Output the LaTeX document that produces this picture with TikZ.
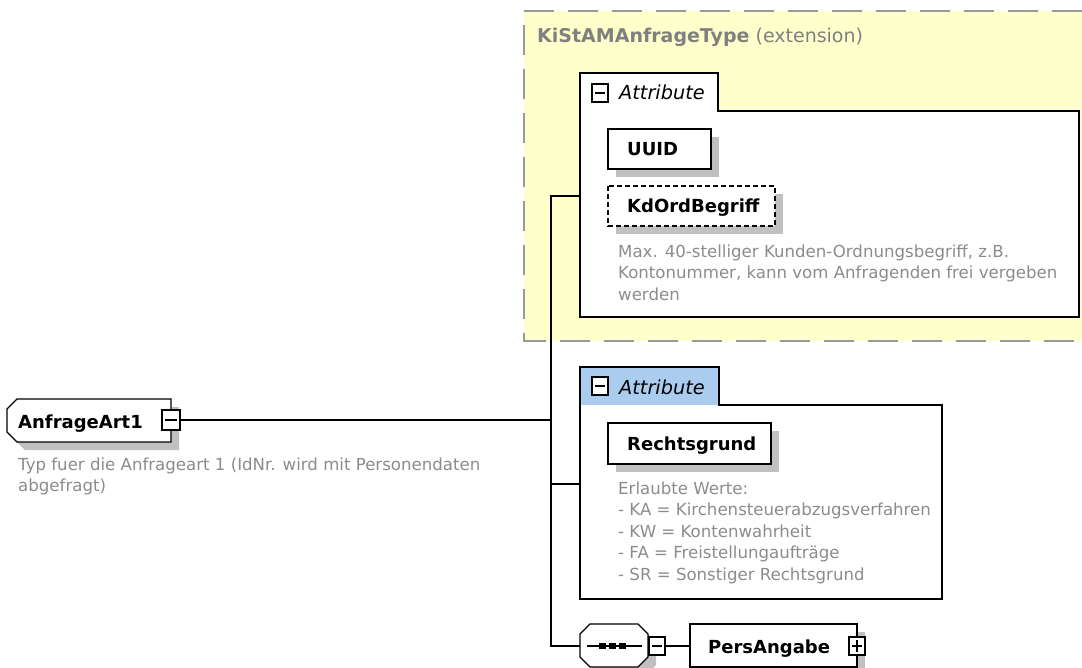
\documentclass[tikz,border=0pt]{standalone}
\usepackage{fontspec}
\setmainfont{DejaVu Sans}[BoldFont={DejaVu Sans Bold},ItalicFont={DejaVu Sans Oblique}]
\definecolor{cYlw}{HTML}{FFFFCC}
\definecolor{cTab}{HTML}{A9CCEF}
\definecolor{cShd}{HTML}{C0C0C0}
\definecolor{cDesc}{HTML}{8C8C8C}
\definecolor{cTitle}{HTML}{808080}
\definecolor{cDash}{HTML}{999999}
\begin{document}
\begin{tikzpicture}[x=1pt,y=-1pt,
  bord/.style={draw=black,line width=1.4pt},
  shad/.style={fill=cShd,draw=none},
  conn/.style={draw=black,line width=1.4pt},
  ename/.style={anchor=base west,inner sep=0pt,font=\fontsize{18}{22}\selectfont\bfseries},
  attrlbl/.style={anchor=base west,inner sep=0pt,font=\fontsize{19.3}{22}\selectfont\itshape},
  desctext/.style={anchor=north west,inner sep=0pt,align=left,text=cDesc,font=\fontsize{16.6}{21.5}\selectfont},
  sqbox/.style={draw=black,line width=1.2pt,fill=white},
  sqline/.style={draw=black,line width=1.2pt},
]
\useasboundingbox (0,0) rectangle (1082,668);
\clip (0,0) rectangle (1082,668);
\fill[white] (0,0) rectangle (1082,668);

% extension area
\draw[fill=cYlw,draw=cDash,line width=2pt,dash pattern=on 30pt off 14pt] (524,11) -- (1140,11) -- (1140,341) -- (524,341) -- cycle;
\node[anchor=base west,inner sep=0pt,text=cTitle,font=\fontsize{19}{22}\selectfont] (title) at (537,43) {\textbf{KiStAMAnfrageType} (extension)};

% attribute group 1
\fill[white] (580,317) -- (580,73) -- (718,73) -- (718,111) -- (1079,111) -- (1079,317) -- cycle;
\draw[bord] (580,317) -- (580,73) -- (718,73) -- (718,111) -- (1079,111) -- (1079,317) -- cycle;
\draw[sqbox] (592,84) rectangle (608,102);
\draw[sqline] (595,93) -- (605,93);
\node[attrlbl] (attr1) at (619,100) {Attribute};

% UUID
\fill[shad] (616,137) rectangle (719,177);
\draw[bord,fill=white] (608,129) rectangle (711,169);
\node[ename] (uuid) at (627,156) {UUID};

% KdOrdBegriff
\fill[shad] (616,194) rectangle (783,234);
\draw[bord,fill=white,dash pattern=on 5pt off 3pt] (608,186) rectangle (775,226);
\node[ename] (kdord) at (627,213) {KdOrdBegriff};
\node[desctext] (kdorddesc) at (618,241.95) {\strut Max. 40-stelliger Kunden-Ordnungsbegriff, z.B.\\\strut Kontonummer, kann vom Anfragenden frei vergeben\\\strut werden};

% attribute group 2
\fill[white] (580,405) rectangle (942,599);
\fill[cTab] (580,367) rectangle (719,405);
\draw[bord] (580,599) -- (580,367) -- (719,367) -- (719,405) -- (942,405) -- (942,599) -- cycle;
\draw[sqbox] (592,377) rectangle (608,395);
\draw[sqline] (595,386) -- (605,386);
\node[attrlbl] (attr2) at (619,394) {Attribute};

% Rechtsgrund
\fill[shad] (616,431) rectangle (779,472);
\draw[bord,fill=white] (608,423) rectangle (771,464);
\node[ename] (rg) at (627,450) {Rechtsgrund};
\node[desctext] (rgdesc) at (618,478.95) {\strut Erlaubte Werte:\\\strut - KA = Kirchensteuerabzugsverfahren\\\strut - KW = Kontenwahrheit\\\strut - FA = Freistellungaufträge\\\strut - SR = Sonstiger Rechtsgrund};

% AnfrageArt1
\fill[shad] (25,407) -- (179,407) -- (179,450) -- (25,450) -- (15,440) -- (15,417) -- cycle;
\draw[bord,fill=white] (17,399) -- (171,399) -- (171,442) -- (17,442) -- (7,432) -- (7,409) -- cycle;
\node[ename] (anf) at (18,428) {AnfrageArt1};
\draw[sqbox] (162,410) rectangle (180,430);
\draw[sqline] (165,420) -- (177,420);
\coordinate (anfR) at (180,420);
\node[desctext] (anfdesc) at (18,454.95) {\strut Typ fuer die Anfrageart 1 (IdNr. wird mit Personendaten\\\strut abgefragt)};

% sequence compositor
\fill[shad] (598,632) -- (646,632) -- (656,642) -- (656,665) -- (646,675) -- (598,675) -- (588,665) -- (588,642) -- cycle;
\draw[bord,fill=white] (590,624) -- (638,624) -- (648,634) -- (648,657) -- (638,667) -- (590,667) -- (580,657) -- (580,634) -- cycle;
\draw[line width=1.3pt] (587,646) -- (642,646);
\fill (599,643) rectangle (606,649);
\fill (609,643) rectangle (616,649);
\fill (619,643) rectangle (626,649);
\draw[sqbox] (649,637) rectangle (665,655);
\draw[sqline] (652,646) -- (662,646);
\coordinate (seqR) at (665,646);

% PersAngabe
\fill[shad] (698,632) rectangle (865,675);
\draw[bord,fill=white] (690,624) rectangle (857,667);
\node[ename] (pers) at (708,653) {PersAngabe};
\coordinate (persL) at (690,646);
\draw[sqbox] (849,637) rectangle (865,655);
\draw[sqline] (852,646) -- (862,646);
\draw[sqline] (857,640) -- (857,652);

% connectors
\coordinate (j0) at (551,196);
\coordinate (j1) at (551,420);
\coordinate (j2) at (551,484);
\coordinate (j3) at (551,646);
\coordinate (g1in) at (580,196);
\coordinate (g2in) at (580,484);
\coordinate (seqL) at (580,646);
\draw[conn] (g1in) -- (j0) -- (j3) -- (seqL);
\draw[conn] (anfR) -- (j1);
\draw[conn] (j2) -- (g2in);
\draw[conn] (seqR) -- (persL);
\end{tikzpicture}
\end{document}
